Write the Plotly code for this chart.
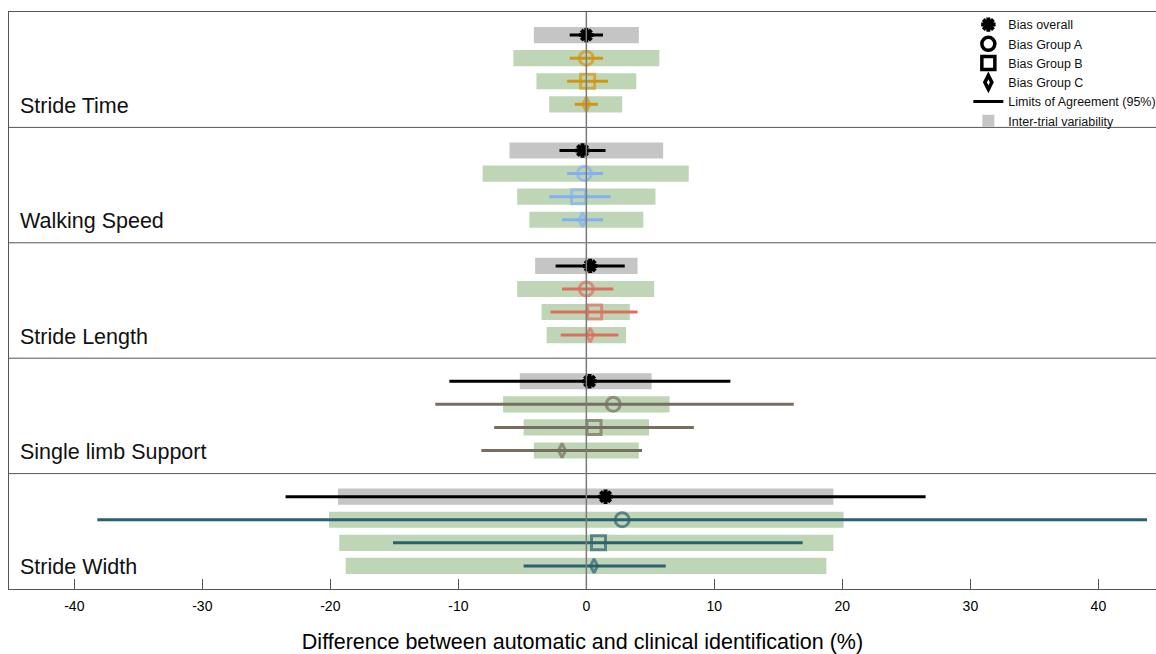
import plotly.graph_objects as go

# ---------------- data ----------------
params = ["Stride Time", "Walking Speed", "Stride Length", "Single limb Support", "Stride Width"]
param_colors = ["#D29614", "#82AFF5", "#E06E5E", "#786E60", "#2A6170"]

overall_bias = [0.0, -0.3, 0.3, 0.25, 1.5]
overall_loa_lo = [-1.3, -2.1, -2.4, -10.7, -23.5]
overall_loa_hi = [1.3, 1.5, 3.0, 11.25, 26.5]
overall_itv_lo = [-4.1, -6.0, -4.0, -5.2, -19.4]
overall_itv_hi = [4.1, 6.0, 4.0, 5.1, 19.3]

a_bias = [0.0, -0.15, 0.0, 2.1, 2.8]
a_loa_lo = [-1.3, -1.5, -1.9, -11.8, -38.2]
a_loa_hi = [1.3, 1.3, 2.1, 16.2, 43.8]
a_itv_lo = [-5.7, -8.1, -5.4, -6.5, -20.1]
a_itv_hi = [5.7, 8.0, 5.3, 6.5, 20.1]

b_bias = [0.1, -0.6, 0.65, 0.6, 0.95]
b_loa_lo = [-1.5, -2.9, -2.8, -7.2, -15.1]
b_loa_hi = [1.7, 1.9, 4.0, 8.4, 16.9]
b_itv_lo = [-3.9, -5.4, -3.5, -4.9, -19.3]
b_itv_hi = [3.9, 5.4, 3.4, 4.9, 19.3]

c_bias = [0.0, -0.3, 0.3, -1.9, 0.6]
c_loa_lo = [-0.9, -1.9, -2.0, -8.2, -4.9]
c_loa_hi = [0.9, 1.3, 2.5, 4.35, 6.2]
c_itv_lo = [-2.9, -4.45, -3.1, -4.1, -18.8]
c_itv_hi = [2.8, 4.45, 3.1, 4.1, 18.75]

tick_vals = [-40, -30, -20, -10, 0, 10, 20, 30, 40]
tick_text = ["-40", "-30", "-20", "-10", "0", "10", "20", "30", "40"]
x_title = "Difference between automatic and clinical identification (%)"

# ---------------- layout helpers ----------------
N = len(params)
ROWS = 5  # 4 rows + label space per panel
TOTAL = N * ROWS


def ypos(p, k):
    return TOTAL - ROWS * p - k


FONT = "Liberation Sans, Arial, sans-serif"
GRAY_BAR = "#C5C5C5"
GREEN_BAR = "#BED6B6"

fig = go.Figure()

# inter-trial variability bars (overall: gray)
fig.add_trace(go.Bar(
    orientation="h",
    y=[ypos(p, 1) for p in range(N)],
    base=overall_itv_lo,
    x=[h - l for l, h in zip(overall_itv_lo, overall_itv_hi)],
    width=0.7,
    marker=dict(color=GRAY_BAR, line=dict(width=0)),
    name="Inter-trial variability",
    legendrank=6,
    hoverinfo="skip",
))

# group bars (green)
g_y, g_base, g_len = [], [], []
for k, (lo_arr, hi_arr) in enumerate([(a_itv_lo, a_itv_hi), (b_itv_lo, b_itv_hi), (c_itv_lo, c_itv_hi)], start=2):
    for p in range(N):
        g_y.append(ypos(p, k))
        g_base.append(lo_arr[p])
        g_len.append(hi_arr[p] - lo_arr[p])
fig.add_trace(go.Bar(
    orientation="h", y=g_y, base=g_base, x=g_len, width=0.7,
    marker=dict(color=GREEN_BAR, line=dict(width=0)),
    showlegend=False, hoverinfo="skip",
))

# overall bias + LoA (black)
fig.add_trace(go.Scatter(
    x=overall_bias,
    y=[ypos(p, 1) for p in range(N)],
    mode="markers",
    marker=dict(symbol="asterisk-open", size=12, color="black", line=dict(width=4, color="black")),
    error_x=dict(type="data", symmetric=False,
                 array=[h - b for b, h in zip(overall_bias, overall_loa_hi)],
                 arrayminus=[b - l for b, l in zip(overall_bias, overall_loa_lo)],
                 color="black", thickness=3, width=0),
    name="Bias overall", legendrank=1, hoverinfo="skip",
))

# group traces per parameter
symbols = ["circle-open", "square-open", "diamond-tall-open"]
sizes = [14, 14, 10]
for p in range(N):
    biases = [a_bias[p], b_bias[p], c_bias[p]]
    los = [a_loa_lo[p], b_loa_lo[p], c_loa_lo[p]]
    his = [a_loa_hi[p], b_loa_hi[p], c_loa_hi[p]]
    col = param_colors[p]
    fig.add_trace(go.Scatter(
        x=biases,
        y=[ypos(p, k) for k in (2, 3, 4)],
        mode="markers",
        marker=dict(symbol=symbols, size=sizes, color=col, line=dict(width=3, color=col)),
        error_x=dict(type="data", symmetric=False,
                     array=[h - b for b, h in zip(biases, his)],
                     arrayminus=[b - l for b, l in zip(biases, los)],
                     color=col, thickness=3, width=0),
        showlegend=False, hoverinfo="skip",
    ))

# legend-only entries
for name, sym, size, rank in [("Bias Group A", "circle-open", 13, 2), ("Bias Group B", "square-open", 13, 3),
                              ("Bias Group C", "diamond-tall-open", 10, 4)]:
    fig.add_trace(go.Scatter(
        x=[None], y=[None], mode="markers",
        marker=dict(symbol=sym, size=size, color="black", line=dict(width=3.5, color="black")),
        name=name, legendrank=rank,
    ))
fig.add_trace(go.Scatter(
    x=[None], y=[None], mode="lines", line=dict(color="black", width=3),
    name="Limits of Agreement (95%)", legendrank=5,
))

# panel labels
for p, name in enumerate(params):
    fig.add_annotation(
        xref="paper", yref="y", x=0.0075, y=ypos(p, 4) - 0.06, text=name,
        showarrow=False, xanchor="left", yanchor="middle",
        font=dict(family=FONT, size=21.5, color="#111"),
    )

shapes = []
for p in range(1, N):
    shapes.append(dict(type="line", xref="paper", yref="y", x0=0, x1=1,
                       y0=ROWS * p, y1=ROWS * p, line=dict(color="#555", width=1)))
shapes.append(dict(type="line", xref="x", yref="y", x0=0, x1=0, y0=0, y1=TOTAL,
                   line=dict(color="#7A7A7A", width=1.5), layer="above"))

fig.update_layout(
    width=1156, height=654, autosize=False,
    margin=dict(l=9, r=0, t=12, b=65, autoexpand=False),
    paper_bgcolor="white", plot_bgcolor="white",
    barmode="overlay",
    shapes=shapes,
    font=dict(family=FONT, color="black"),
    showlegend=True,
    legend=dict(x=0.8364, y=1.0035, xanchor="left", yanchor="top",
                font=dict(family=FONT, size=12.5, color="#111"),
                bgcolor="rgba(255,255,255,0)", itemwidth=30, tracegroupgap=0),
    xaxis=dict(range=[-45.1, 44.5], tickvals=tick_vals, ticktext=tick_text, ticks="inside", ticklen=10,
               tickwidth=1, tickcolor="#555", showgrid=False, zeroline=False,
               showline=True, mirror=True, linecolor="#555", linewidth=1,
               tickfont=dict(family=FONT, size=14, color="black"), ticklabelstandoff=4,
               title=dict(text=x_title, font=dict(family=FONT, size=21.5, color="black"), standoff=32),
               automargin=False),
    yaxis=dict(range=[0, TOTAL], showticklabels=False, showgrid=False, zeroline=False,
               showline=True, linecolor="#555", linewidth=1, ticks=""),
)

fig.write_html(
    "out.html",
    config={"displayModeBar": False, "responsive": False},
    post_script="document.body.style.margin='0';document.body.style.overflow='hidden';",
)
